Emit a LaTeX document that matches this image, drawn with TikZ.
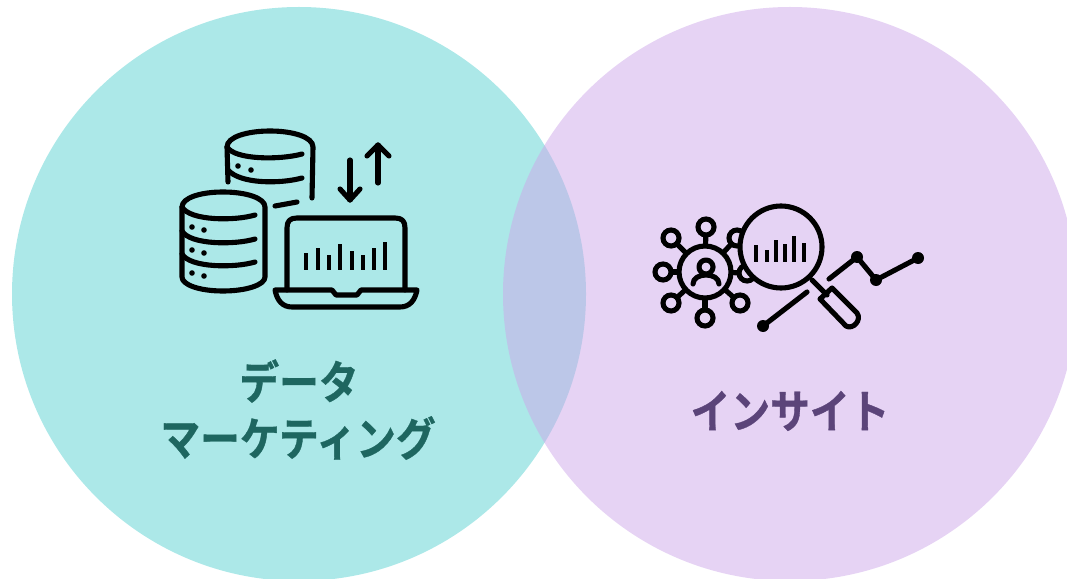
\documentclass[tikz,border=0pt]{standalone}
\usepackage{fontspec}
\usepackage{xcolor}
\newfontfamily\cjkbold[FakeStretch=0.87,FakeBold=0.8]{Noto Sans CJK JP Bold}
\definecolor{tealback}{HTML}{ACE8E8}
\definecolor{lilacback}{HTML}{CDA7E9}
\definecolor{lilacflat}{HTML}{E5D3F4}
\definecolor{tealtext}{HTML}{1E6660}
\definecolor{lilactext}{HTML}{5B4479}
\tikzset{
  iconline/.style={draw=black, line width=1.45pt, line cap=round, line join=round},
  barline/.style={draw=black, line width=1.4pt},
  caption/.style={font=\cjkbold\fontsize{13pt}{14pt}\selectfont, inner sep=0pt},
}

\begin{document}
\begin{tikzpicture}[x=0.01cm,y=-0.01cm]
        \useasboundingbox (0,0) rectangle (1067,579);
        \clip (0,0) rectangle (1067,579);
        % venn circles
        \fill[tealback] (299,294) circle (287);
        \fill[lilacback,opacity=0.5] (790,294) circle (287);

        % back cylinder
        \draw[iconline] (228,182) -- (227,147) .. controls (227,137) and (247,131) .. (270,131)
            .. controls (293,131) and (313,137) .. (313,147) -- (312,198);
        \draw[iconline] (227,147) .. controls (235,160) and (280,160) .. (302,154);
        \draw[iconline] (228,170) .. controls (240,184) and (280,184) .. (302,178);
        \draw[iconline] (275,206) -- (297,202);
        \foreach \x/\y in {238/166,251/170}
        \fill (\x,\y) circle (2.8);

        % front cylinder
        \draw[iconline] (182,207) .. controls (182,198) and (200,192) .. (223,192)
            .. controls (246,192) and (265,198) .. (265,207) -- (265,277)
            .. controls (265,285) and (246,291) .. (223,291)
            .. controls (200,291) and (182,285) .. (182,277) -- cycle;
        \foreach \y in {207,231,254}
        \draw[iconline] (182,\y) .. controls (190,\y+14) and (235,\y+14) .. (255,\y+8);
        \foreach \y in {227,250,273}
        \fill (192,\y) circle (2.8) (204,\y+3) circle (2.8);

        % laptop
        \draw[iconline] (287,290) -- (287,228) .. controls (287,221) and (290,218) .. (297,218)
            -- (395,218) .. controls (402,218) and (405,221) .. (405,228) -- (405,290);
        \draw[iconline] (275,290) -- (332,290) -- (336,295) -- (357,295) -- (361,290) -- (417,290)
            .. controls (415,300) and (410,307) .. (400,307) -- (292,307)
            .. controls (282,307) and (277,300) .. (275,290) -- cycle;
        \foreach \x/\y in {306/253,318/248,329/255,340/244,352/251,363/255,374/248,385/242}
        \draw[barline] (\x,\y) -- (\x,270);

        % arrows
        \draw[iconline] (350,160) -- (350,200);
        \draw[iconline] (340,189) -- (350,200) -- (360,189);
        \draw[iconline] (378,183) -- (378,145);
        \draw[iconline] (367,156) -- (378,145) -- (389,156);

        % network
        \foreach \x/\y in {706/227,671/238,663/272,671/303,705/318,740/303,747/273,737/238}
        {
        \draw[iconline] (705,272) -- (\x,\y);
        \filldraw[fill=lilacflat, draw=black, line width=1.45pt] (\x,\y) circle (8);
        }
        \filldraw[fill=lilacflat, draw=black, line width=1.45pt] (705,272) circle (26);
        \draw[iconline] (706,267) circle (7);
        \draw[iconline] (693,284) .. controls (693,272) and (719,272) .. (719,284);

        % line chart
        \draw[iconline] (763,326) -- (807,292);
        \draw[iconline] (829,279) -- (857,257) -- (876,280) -- (918,258);
        \foreach \x/\y in {763/326,857/257,876/280,918/258}
        \fill (\x,\y) circle (6);

        % magnifier
        \draw[iconline] (812,280) -- (827,295);
        \filldraw[fill=lilacflat, draw=black, line width=1.45pt] (781,247) circle (41);
        \draw[iconline] (820,299) -- (832,288) -- (857,313)
            .. controls (862,320) and (853,330) .. (846,326) -- cycle;
        \foreach \x/\y in {756/245,767/250,776/240,785/244,794/236,804/243}
        \draw[barline] (\x,\y) -- (\x,262);

        \node[caption, text=tealtext] (dataword) at (299,381) {データ};
        \node[caption, text=tealtext] (marketingword) at (298,438) {マーケティング};
        \node[caption, text=lilactext] (insightword) at (790,411) {インサイト};
\end{tikzpicture}
\end{document}
